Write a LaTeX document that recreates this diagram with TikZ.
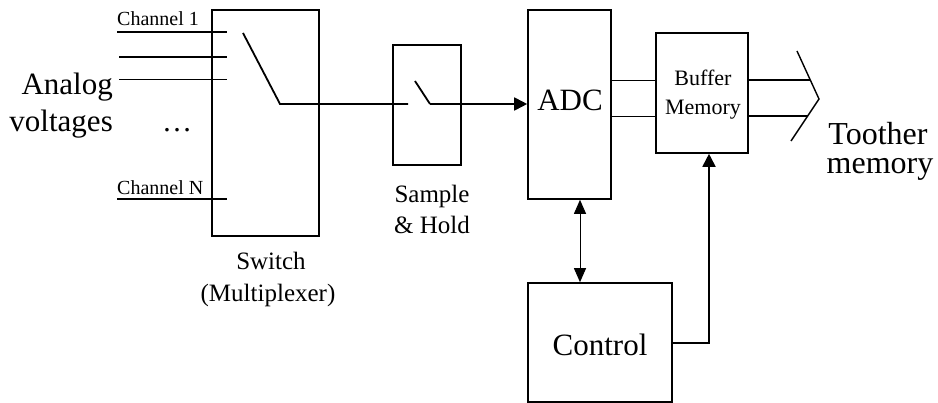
\documentclass[tikz,border=0pt]{standalone}
\usepackage{fontspec}
\setmainfont{Liberation Serif}
\usetikzlibrary{arrows.meta}
\begin{document}
\begin{tikzpicture}[x=1pt,y=-1pt,
  box/.style={draw,line width=1.6pt,inner sep=0pt},
  thin/.style={line width=1pt},
  medium/.style={line width=1.4pt},
  thick/.style={line width=1.8pt},
  tip/.style={-{Triangle[length=13pt,width=13pt]}},
  lbl/.style={inner sep=0pt,anchor=base}]
\useasboundingbox (0,0) rectangle (938,403);
% boxes
\node[box,minimum width=107pt,minimum height=226pt] (sw) at (265.5,123) {};
\node[box,minimum width=68pt,minimum height=120pt] (sh) at (427,105) {};
\node[box,minimum width=83pt,minimum height=189pt] (adc) at (569.5,104.5) {};
\node[box,minimum width=92pt,minimum height=120pt] (buf) at (702,93) {};
\node[box,minimum width=144pt,minimum height=119pt] (ctl) at (600,342.5) {};
% labels
\node[lbl,anchor=base east,font=\fontsize{31}{31}\selectfont] (an1) at (113,95) {Analog};
\node[lbl,anchor=base east,font=\fontsize{31}{31}\selectfont] (an2) at (113,132) {voltages};
\node[lbl,font=\fontsize{30}{30}\selectfont] (dots) at (177,132) {…};
\node[lbl,anchor=base west,font=\fontsize{20}{20}\selectfont] (ch1) at (117,26) {Channel 1};
\node[lbl,anchor=base west,font=\fontsize{20}{20}\selectfont] (chn) at (117,195) {Channel N};
\node[lbl,font=\fontsize{25}{25}\selectfont] (swl1) at (271,270) {Switch};
\node[lbl,font=\fontsize{25}{25}\selectfont] (swl2) at (268,302) {(Multiplexer)};
\node[lbl,font=\fontsize{25}{25}\selectfont] (shl1) at (432,203) {Sample};
\node[lbl,font=\fontsize{25}{25}\selectfont] (shl2) at (432,234) {\& Hold};
\node[lbl,font=\fontsize{31}{31}\selectfont] (adcl) at (570,111) {ADC};
\node[lbl,font=\fontsize{22}{22}\selectfont] (bufl1) at (703,86) {Buffer};
\node[lbl,font=\fontsize{22}{22}\selectfont] (bufl2) at (703,115) {Memory};
\node[lbl,font=\fontsize{31}{31}\selectfont] (ctll) at (600,356) {Control};
\node[lbl,font=\fontsize{32}{32}\selectfont] (to1) at (878,145) {Toother};
\node[lbl,font=\fontsize{32}{32}\selectfont] (to2) at (880,174) {memory};
% channel lines
\coordinate (c1a) at (117,32);  \coordinate (c1b) at (227,32);
\coordinate (c2a) at (119,57);  \coordinate (c2b) at (227,57);
\coordinate (c3a) at (119,80);  \coordinate (c3b) at (227,80);
\coordinate (cna) at (117,199); \coordinate (cnb) at (227,199);
\draw[medium] (c1a) -- (c1b);
\draw[thick] (c2a) -- (c2b);
\draw[thin] (c3a) -- (c3b);
\draw[thick] (cna) -- (cnb);
% switch blade and signal path
\coordinate (bladeTop) at (243,33);
\coordinate (bladeEnd) at (280,104);
\coordinate (shIn) at (408,104);
\coordinate (shTop) at (415,81);
\coordinate (shOut) at (430,104);
\draw[thick] (bladeTop) -- (bladeEnd) -- (shIn);
\draw[thick] (shTop) -- (shOut);
\draw[thick,tip] (shOut) -- (adc.west |- shOut);
% ADC to buffer
\draw[thin] (adc.east |- 0,81) -- (buf.west |- 0,81);
\draw[thin] (adc.east |- 0,117) -- (buf.west |- 0,117);
% output bus
\coordinate (chA) at (797,51);
\coordinate (chB) at (819,99);
\coordinate (chC) at (791,141);
\coordinate (outA) at (810,80);
\coordinate (outB) at (808,116);
\draw[thick] (buf.east |- outA) -- (outA);
\draw[thick] (buf.east |- outB) -- (outB);
\draw[line width=1.4pt] (chA) -- (chB) -- (chC);
% ADC <-> control
\coordinate (ax) at (580,0);
\draw[thin,{Triangle[length=14pt,width=12pt]}-{Triangle[length=14pt,width=12pt]}] (adc.south -| ax) -- (ctl.north -| ax);
% control -> buffer
\coordinate (cb) at (709,343);
\draw[thick,tip] (ctl.east |- cb) -| (buf.south -| cb);
\end{tikzpicture}
\end{document}
